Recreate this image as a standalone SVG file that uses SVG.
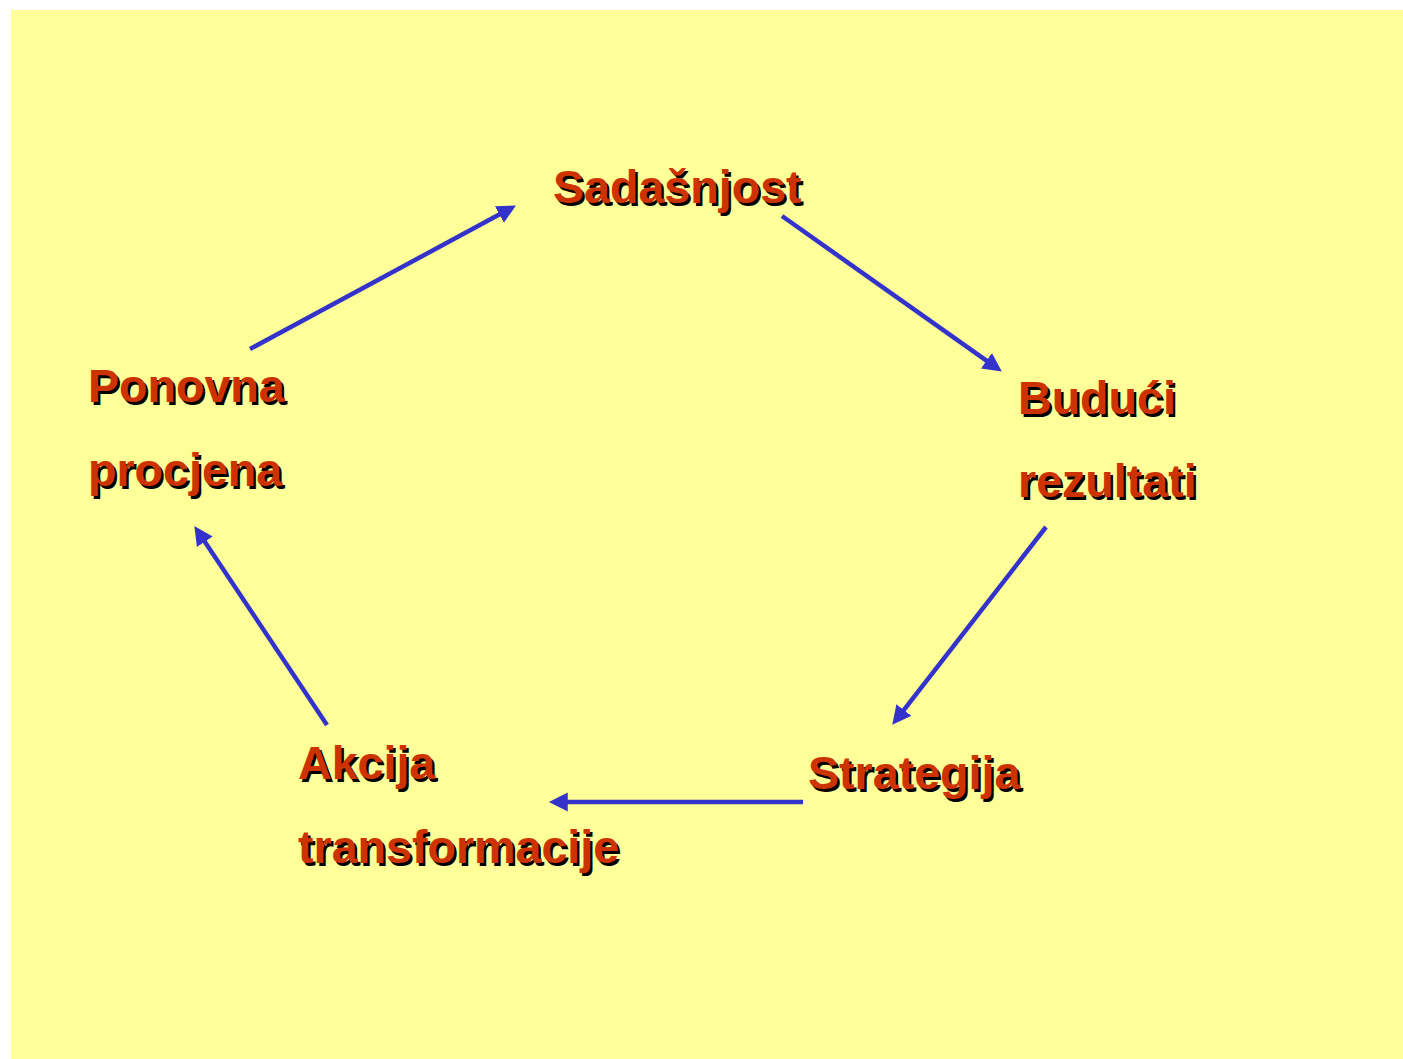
<svg xmlns="http://www.w3.org/2000/svg" width="1403" height="1059" viewBox="0 0 1403 1059">
<style>
.t{font-family:"Liberation Sans",Arial,sans-serif;font-weight:bold;font-size:46.6px}
.sh{fill:#000000}
.fg{fill:#CC3300}
.conn line{stroke:#3333CC;stroke-width:4.5;fill:none}
</style>
<defs>
<marker id="ah" markerUnits="userSpaceOnUse" markerWidth="20" markerHeight="20" viewBox="0 -9 18 18" refX="7" refY="0" orient="auto">
<path d="M0,-8.5 L17,0 L0,8.5 z" fill="#3333CC"/>
</marker>
</defs>
<rect x="0" y="0" width="1403" height="1059" fill="#FFFFFF"/>
<rect x="11" y="10" width="1392" height="1049" fill="#FFFF99"/>
<g id="connectors" class="conn">
<line x1="250" y1="349" x2="506.2" y2="210.8" marker-end="url(#ah)"/>
<line x1="782" y1="216" x2="992.8" y2="365.2" marker-end="url(#ah)"/>
<line x1="1046" y1="527" x2="899.1" y2="716.1" marker-end="url(#ah)"/>
<line x1="803" y1="802" x2="560" y2="802" marker-end="url(#ah)"/>
<line x1="327" y1="725" x2="200.5" y2="535.3" marker-end="url(#ah)"/>
</g>
<g id="sadasnjost" class="t">
<text class="sh" x="555.5" y="205.5">Sadašnjost</text>
<text class="fg" x="553" y="203">Sadašnjost</text>
</g>
<g id="buduci" class="t">
<text class="sh" x="1020.5" y="416.5">Budući</text>
<text class="fg" x="1018" y="414">Budući</text>
<text class="sh" x="1020.5" y="499.5">rezultati</text>
<text class="fg" x="1018" y="497">rezultati</text>
</g>
<g id="strategija" class="t">
<text class="sh" x="810.5" y="791.5">Strategija</text>
<text class="fg" x="808" y="789">Strategija</text>
</g>
<g id="akcija" class="t">
<text class="sh" x="300.5" y="781.5">Akcija</text>
<text class="fg" x="298" y="779">Akcija</text>
<text class="sh" x="300.5" y="865.5">transformacije</text>
<text class="fg" x="298" y="863">transformacije</text>
</g>
<g id="ponovna" class="t">
<text class="sh" x="90.5" y="404.5">Ponovna</text>
<text class="fg" x="88" y="402">Ponovna</text>
<text class="sh" x="90.5" y="488.5">procjena</text>
<text class="fg" x="88" y="486">procjena</text>
</g>
</svg>
